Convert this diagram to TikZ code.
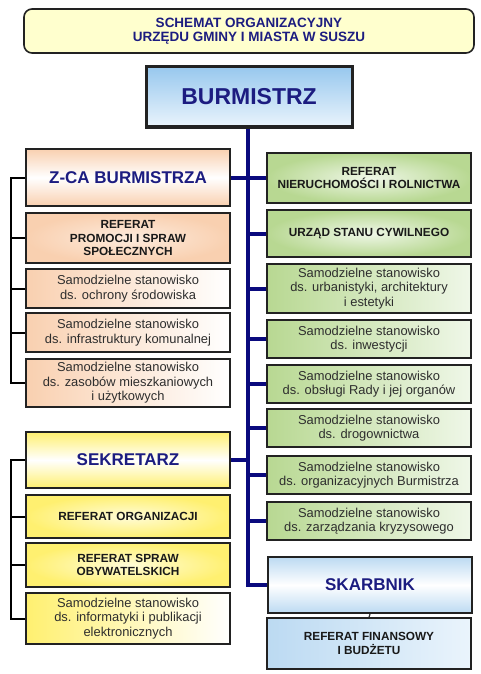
\documentclass[tikz,border=0pt]{standalone}
\usepackage{fontspec}
\setmainfont{Liberation Sans}
\definecolor{navy}{HTML}{1C1C80}
\definecolor{trunkc}{HTML}{0A0A7E}
\definecolor{boxline}{HTML}{222222}
\definecolor{titlefill}{HTML}{FFFFCE}
\definecolor{bluetop}{HTML}{98C8EE}
\definecolor{bluebot}{HTML}{EAF4FC}
\definecolor{bluelite}{HTML}{BCDAF2}
\definecolor{peach}{HTML}{F9D0B0}
\definecolor{peachlite}{HTML}{FDEBDD}
\definecolor{yell}{HTML}{FFF070}
\definecolor{yelllite}{HTML}{FFFCD8}
\definecolor{grn}{HTML}{B8D892}
\definecolor{grnlite}{HTML}{EFF7E8}
\definecolor{txtgray}{HTML}{2E2E2E}
\tikzset{
  box/.style={draw=boxline, line width=1.4pt, minimum width=204pt, inner sep=0pt, align=center, anchor=center},
  headbox/.style={box, line width=2pt, text=navy, font=\fontsize{17}{19}\selectfont\bfseries},
  refbox/.style={box, text=black!90, font=\fontsize{11.8}{13.8}\selectfont\bfseries},
  samobox/.style={box, text=txtgray, font=\fontsize{12.9}{14.4}\selectfont},
  peachhead/.style={top color=peach, bottom color=peach, middle color=white},
  peachref/.style={inner color=peachlite, outer color=peach},
  peachsamo/.style={left color=peach, right color=white},
  yellhead/.style={top color=yell, bottom color=yell, middle color=white},
  yellref/.style={inner color=yelllite, outer color=yell},
  yellsamo/.style={left color=yell, right color=white},
  grnref/.style={inner color=grnlite, outer color=grn},
  grnsamo/.style={left color=grn, right color=grnlite},
  bluehead/.style={top color=bluelite, bottom color=bluelite, middle color=white},
  blueref/.style={left color=bluelite, right color=bluebot},
  trunk/.style={draw=trunkc, line width=4pt},
  bracket/.style={draw=black, line width=2pt},
  thinlink/.style={draw=black!80, line width=1.2pt}
}
\begin{document}
\begin{tikzpicture}[x=1pt, y=-1pt]
\useasboundingbox (0,0) rectangle (480,674);
% title
\node[draw=boxline, line width=1.6pt, rounded corners=8pt, fill=titlefill, minimum width=450pt, minimum height=44pt, inner sep=0pt, align=center, text=navy, font=\fontsize{13.5}{14.5}\selectfont\bfseries] (title) at (249,31) {SCHEMAT ORGANIZACYJNY\\URZĘDU GMINY I MIASTA W SUSZU};
% burmistrz
\node[draw=boxline, line width=3pt, top color=bluetop, bottom color=bluebot, minimum width=206pt, minimum height=60pt, inner sep=0pt, text=navy, font=\fontsize{23}{25}\selectfont\bfseries] (burm) at (249,97) {BURMISTRZ};
% left column: zastepca
\node[headbox, peachhead, minimum height=57pt] (zca) at (128,177.5) {Z-CA BURMISTRZA};
\node[refbox, peachref, minimum height=50pt] (prom) at (128,238) {REFERAT\\PROMOCJI I SPRAW\\SPOŁECZNYCH};
\node[samobox, peachsamo, minimum height=39pt] (ochr) at (128,288.5) {Samodzielne stanowisko\\ds. ochrony środowiska};
\node[samobox, peachsamo, minimum height=39pt] (infr) at (128,332.5) {Samodzielne stanowisko\\ds. infrastruktury komunalnej};
\node[samobox, peachsamo, minimum height=48pt] (zas) at (128,383) {Samodzielne stanowisko\\ds. zasobów mieszkaniowych\\i użytkowych};
% left column: sekretarz
\node[headbox, yellhead, minimum height=56pt] (sekr) at (128,460) {SEKRETARZ};
\node[refbox, yellref, minimum height=43pt] (org) at (128,516.5) {REFERAT ORGANIZACJI};
\node[refbox, yellref, minimum height=44pt] (obyw) at (128,565) {REFERAT SPRAW\\OBYWATELSKICH};
\node[samobox, yellsamo, minimum height=51pt] (infor) at (128,618.5) {Samodzielne stanowisko\\ds. informatyki i publikacji\\elektronicznych};
% right column
\node[refbox, grnref, minimum height=50pt] (nier) at (369,178) {REFERAT\\NIERUCHOMOŚCI I ROLNICTWA};
\node[refbox, grnref, minimum height=47pt] (usc) at (369,233.5) {URZĄD STANU CYWILNEGO};
\node[samobox, grnsamo, minimum height=49pt] (urb) at (369,288.5) {Samodzielne stanowisko\\ds. urbanistyki, architektury\\i estetyki};
\node[samobox, grnsamo, minimum height=38pt] (inw) at (369,339) {Samodzielne stanowisko\\ds. inwestycji};
\node[samobox, grnsamo, minimum height=38pt] (rady) at (369,384) {Samodzielne stanowisko\\ds. obsługi Rady i jej organów};
\node[samobox, grnsamo, minimum height=38pt] (drog) at (369,428) {Samodzielne stanowisko\\ds. drogownictwa};
\node[samobox, grnsamo, minimum height=38pt] (orgb) at (369,475) {Samodzielne stanowisko\\ds. organizacyjnych Burmistrza};
\node[samobox, grnsamo, minimum height=38pt] (kryz) at (369,521) {Samodzielne stanowisko\\ds. zarządzania kryzysowego};
\node[headbox, bluehead, minimum height=56pt] (skarb) at (370,585) {SKARBNIK};
\node[refbox, blueref, minimum height=51pt] (fin) at (369,643.5) {REFERAT FINANSOWY\\I BUDŻETU};
% trunk
\coordinate (tx) at (248,0);
\draw[trunk] (burm.south -| tx) -- (skarb.west -| tx) -- (skarb.west);
\foreach \n in {nier,usc,urb,inw,rady,drog,orgb,kryz}{
  \draw[trunk] (\n.west -| tx) -- (\n.west);
}
\draw[trunk] (zca.east) -- (zca.east -| tx);
\draw[trunk] (sekr.east) -- (sekr.east -| tx);
\draw[thinlink] (skarb.south) -- (fin.north);
% left brackets
\coordinate (lb) at (11,0);
\draw[bracket] (zca.west) -- (zca.west -| lb) |- (zas.west);
\foreach \n in {prom,ochr,infr}{
  \draw[bracket] (\n.west -| lb) -- (\n.west);
}
\draw[bracket] (sekr.west) -- (sekr.west -| lb) |- (infor.west);
\foreach \n in {org,obyw}{
  \draw[bracket] (\n.west -| lb) -- (\n.west);
}
\end{tikzpicture}
\end{document}
